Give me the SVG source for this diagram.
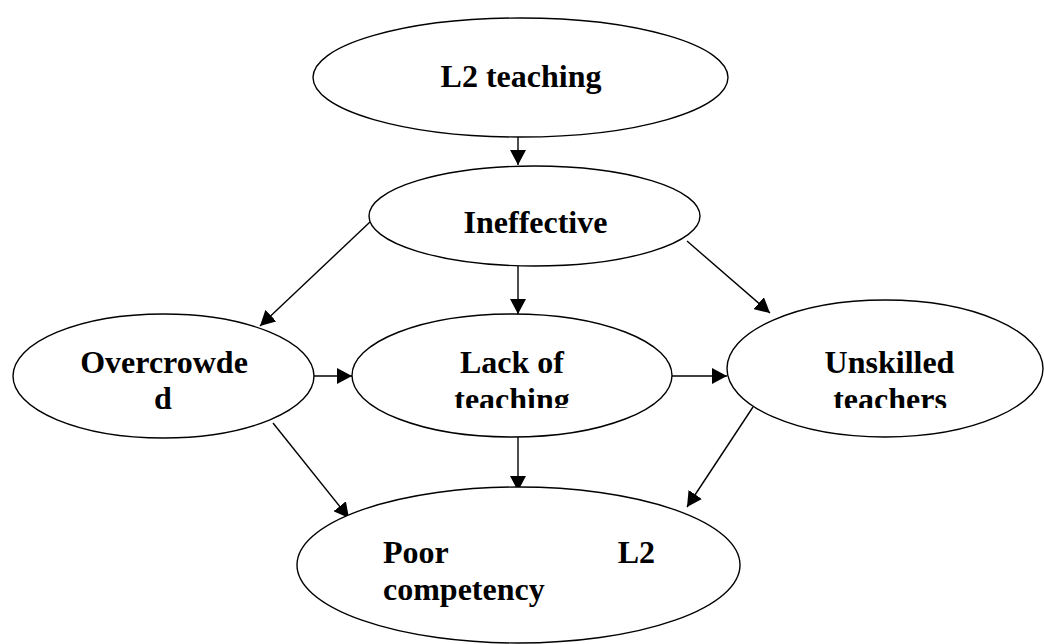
<svg xmlns="http://www.w3.org/2000/svg" width="1044" height="644" viewBox="0 0 1044 644">
<style>
.n{fill:#fff;stroke:#000;stroke-width:1.4}
.t{font-family:"Liberation Serif","Times New Roman",serif;font-weight:bold;font-size:32px;fill:#000}
.c{text-anchor:middle}
.e{stroke:#000;stroke-width:1.4;fill:none;marker-end:url(#ah)}
</style>
<defs>
<marker id="ah" markerUnits="userSpaceOnUse" markerWidth="15" markerHeight="16" refX="15" refY="8" orient="auto" viewBox="0 0 15 16">
<path d="M0,0 L15,8 L0,16 z" fill="#000"/>
</marker>
<clipPath id="clipLack"><rect x="340" y="300" width="340" height="108"/></clipPath>
<clipPath id="clipUnsk"><rect x="720" y="290" width="330" height="118"/></clipPath>
</defs>
<rect width="1044" height="644" fill="#fff"/>
<g id="connectors">
<line class="e" x1="518" y1="137" x2="518" y2="165"/>
<line class="e" x1="370" y1="222" x2="260" y2="326"/>
<line class="e" x1="518" y1="266" x2="518" y2="314"/>
<line class="e" x1="687" y1="241" x2="770" y2="313"/>
<line class="e" x1="314" y1="376" x2="352" y2="376"/>
<line class="e" x1="672" y1="376" x2="727" y2="376"/>
<line class="e" x1="273" y1="423" x2="349" y2="518"/>
<line class="e" x1="518" y1="437" x2="518" y2="491"/>
<line class="e" x1="753" y1="407" x2="687" y2="507"/>
</g>
<g id="node-l2teaching">
<ellipse class="n" cx="520.5" cy="77.5" rx="207.5" ry="59.5"/>
<text class="t c" x="521" y="87">L2 teaching</text>
</g>
<g id="node-ineffective">
<ellipse class="n" cx="534.5" cy="216" rx="165.5" ry="50"/>
<text class="t c" x="535.5" y="233">Ineffective</text>
</g>
<g id="node-overcrowded">
<ellipse class="n" cx="163.5" cy="376" rx="150.5" ry="62"/>
<text class="t c" x="164" y="373">Overcrowde</text>
<text class="t c" x="163" y="409">d</text>
</g>
<g id="node-lack">
<ellipse class="n" cx="512" cy="375.5" rx="160" ry="61.5"/>
<g clip-path="url(#clipLack)">
<text class="t c" x="512" y="373">Lack of</text>
<text class="t c" x="512" y="410">teaching</text>
</g>
</g>
<g id="node-unskilled">
<ellipse class="n" cx="885" cy="368.5" rx="158" ry="68.5"/>
<g clip-path="url(#clipUnsk)">
<text class="t c" x="889.5" y="373">Unskilled</text>
<text class="t c" x="890" y="410">teachers</text>
</g>
</g>
<g id="node-poor">
<ellipse class="n" cx="518.5" cy="565" rx="221.5" ry="78"/>
<text class="t" x="383" y="563">Poor</text>
<text class="t" x="655" y="563" text-anchor="end">L2</text>
<text class="t" x="383" y="600">competency</text>
</g>
</svg>
